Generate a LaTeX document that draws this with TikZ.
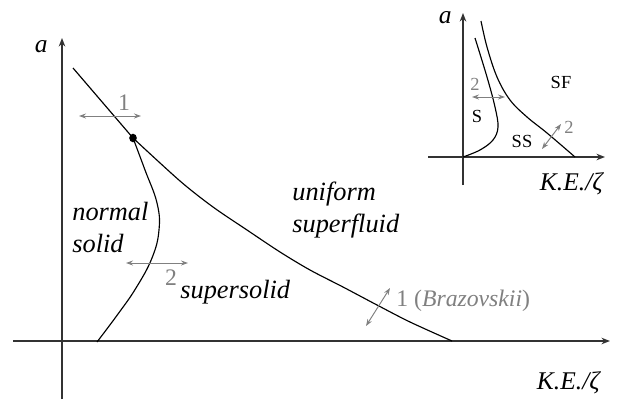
\documentclass[tikz,border=0pt]{standalone}
\usepackage{fontspec}
\setmainfont{Liberation Serif}
\usetikzlibrary{arrows.meta}

\begin{document}
\begin{tikzpicture}[
    x=0.02cm, y=-0.02cm,
    axis/.style={draw=black!80, line width=0.8pt, -{Stealth[length=0.17cm, width=0.13cm]}},
    curve/.style={draw=black, line width=0.65pt},
    dbl/.style={draw=black!50, line width=0.55pt, {Stealth[length=0.14cm, width=0.1cm]}-{Stealth[length=0.14cm, width=0.1cm]}},
    region/.style={font=\fontsize{15}{18}\selectfont\itshape, align=left, inner sep=0pt},
    lbl/.style={font=\fontsize{14.5}{18}\selectfont, inner sep=0pt},
    num/.style={font=\fontsize{13.5}{16}\selectfont, text=black!50, inner sep=0pt},
    small/.style={font=\fontsize{10.5}{12}\selectfont, inner sep=0pt},
]
\useasboundingbox (0,0) rectangle (622,399);

% Hauptdiagramm: Achsen
\coordinate (xs) at (13,341);
\coordinate (xe) at (610,341);
\coordinate (ys) at (62,399);
\coordinate (ye) at (62,38);
\draw[axis] (xs) -- (xe);
\draw[axis] (ys) -- (ye);
\node[lbl, anchor=base east] (alab) at (48,52) {\itshape a};
\node[lbl, anchor=base east] (klab) at (600,389) {\itshape K.E./ζ};

% Phasengrenzen
\coordinate (tri) at (133,138);
\draw[curve] (73,68) -- (tri);
\draw[curve] plot[smooth, tension=0.5] coordinates {(tri) (180,181) (213,207) (247,230) (280,252) (310,270) (343,287) (377,305) (410,322) (452,341)};
\draw[curve] plot[smooth, tension=0.7] coordinates {(tri) (145,170) (157,203) (159,230) (152,258) (136,288) (118,314) (97,342)};
\fill (tri) circle[x radius=3.8, y radius=4.3];

% Bereiche (base = letzte Zeile)
\node[region, anchor=base west] (ns) at (72,252) {normal\\solid};
\node[region, anchor=base west] (usf) at (292,232) {uniform\\superfluid};
\node[region, anchor=base west] (ss) at (180,298) {supersolid};

% Übergangsordnung
\coordinate (a1l) at (79,116);
\coordinate (a1r) at (141,116);
\draw[dbl] (a1l) -- (a1r);
\node[num, anchor=base] (n1) at (124,110) {1};
\coordinate (a2l) at (126,263);
\coordinate (a2r) at (188,263);
\draw[dbl] (a2l) -- (a2r);
\node[num, anchor=base] (n2) at (171,285) {2};
\coordinate (a3b) at (366,326);
\coordinate (a3t) at (390,288);
\draw[dbl] (a3b) -- (a3t);
\node[num, anchor=base west] (n3) at (396,306) {1 (\textit{Brazovskii})};

% Einschub
\coordinate (ixs) at (428,157);
\coordinate (ixe) at (605,157);
\coordinate (iys) at (463,185);
\coordinate (iye) at (463,13);
\draw[axis] (ixs) -- (ixe);
\draw[axis] (iys) -- (iye);
\node[lbl, anchor=base east] (ialab) at (452,24) {\itshape a};
\node[lbl, anchor=base east] (iklab) at (603,190) {\itshape K.E./ζ};
\draw[curve] plot[smooth, tension=0.6] coordinates {(475,38) (487,77) (495,107) (498,127) (493,140) (480,150) (463,157)};
\draw[curve] plot[smooth, tension=0.6] coordinates {(481,21) (487,47) (497,77) (510,100) (527,117) (547,133) (575,157)};
\node[small, anchor=base] (isf) at (561,88) {SF};
\node[small, anchor=base] (is) at (477,122) {S};
\node[small, anchor=base] (iss) at (522,147) {SS};
\coordinate (ia2l) at (472,97);
\coordinate (ia2r) at (505,97);
\draw[dbl] (ia2l) -- (ia2r);
\node[small, text=black!50, anchor=base] (in2) at (475,90) {2};
\coordinate (ia3b) at (542,149);
\coordinate (ia3t) at (561,124);
\draw[dbl] (ia3b) -- (ia3t);
\node[small, text=black!50, anchor=base west] (in3) at (564,133) {2};
\end{tikzpicture}
\end{document}
